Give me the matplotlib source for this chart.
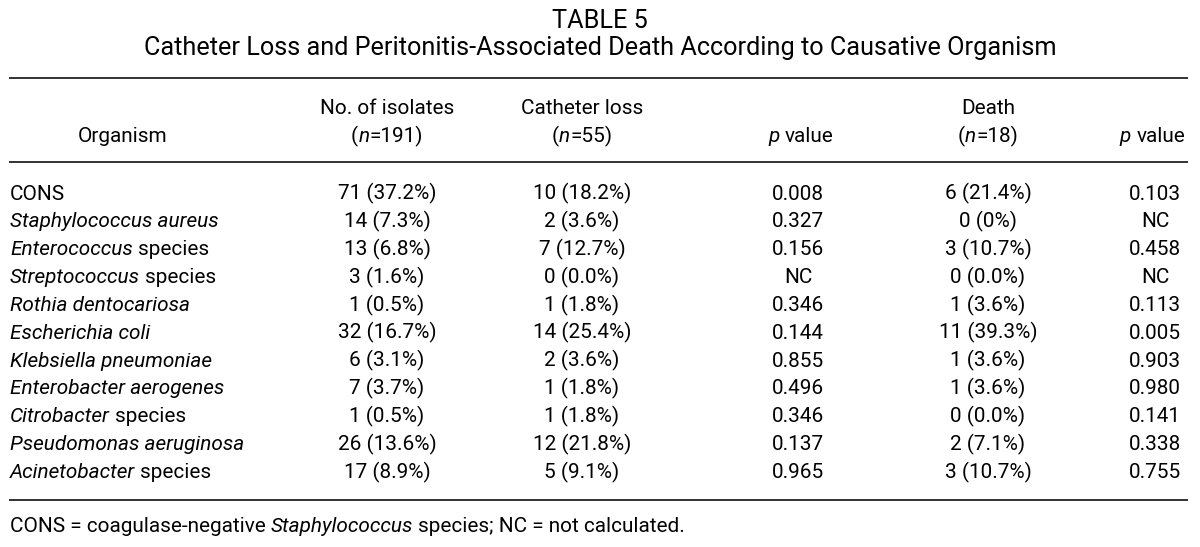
import numpy as np
import matplotlib
matplotlib.use("Agg")
import matplotlib.pyplot as plt
from matplotlib import font_manager as fm

################### Table content ###########################
title = "TABLE 5"
subtitle = "Catheter Loss and Peritonitis-Associated Death According to Causative Organism"

organisms = ["CONS", "Staphylococcus aureus", "Enterococcus species",
             "Streptococcus species", "Rothia dentocariosa",
             "Escherichia coli", "Klebsiella pneumoniae",
             "Enterobacter aerogenes", "Citrobacter species",
             "Pseudomonas aeruginosa", "Acinetobacter species"]
isolates = ["71 (37.2%)", "14 (7.3%)", "13 (6.8%)", "3 (1.6%)", "1 (0.5%)",
            "32 (16.7%)", "6 (3.1%)", "7 (3.7%)", "1 (0.5%)", "26 (13.6%)",
            "17 (8.9%)"]
catheter_loss = ["10 (18.2%)", "2 (3.6%)", "7 (12.7%)", "0 (0.0%)",
                 "1 (1.8%)", "14 (25.4%)", "2 (3.6%)", "1 (1.8%)",
                 "1 (1.8%)", "12 (21.8%)", "5 (9.1%)"]
p_catheter = ["0.008", "0.327", "0.156", "NC", "0.346", "0.144", "0.855",
              "0.496", "0.346", "0.137", "0.965"]
death = ["6 (21.4%)", "0 (0%)", "3 (10.7%)", "0 (0.0%)", "1 (3.6%)",
         "11 (39.3%)", "1 (3.6%)", "1 (3.6%)", "0 (0.0%)", "2 (7.1%)",
         "3 (10.7%)"]
p_death = ["0.103", "NC", "0.458", "NC", "0.113", "0.005", "0.903", "0.980",
           "0.141", "0.338", "0.755"]
footnote = [("CONS = coagulase-negative", False), ("Staphylococcus", True),
            ("species; NC = not calculated.", False)]
###############################################################


def pickFont():
    # upright + italic files of a plain sans family
    groups = {}
    for f in fm.fontManager.ttflist:
        if str(f.weight) not in ("400", "normal", "regular", "book"):
            continue
        groups.setdefault((f.name, str(f.stretch)), {})[f.style] = f.fname
    for name in ["Roboto", "Liberation Sans", "Noto Sans"]:
        styles = groups.get((name, "normal"), {})
        ital = styles.get("italic", styles.get("oblique"))
        if "normal" in styles and ital is not None:
            return styles["normal"], ital
    return None


font_files = pickFont()


def fp(italic=False, size=14):
    if font_files is None:
        return fm.FontProperties(size=size,
                                 style="italic" if italic else "normal")
    return fm.FontProperties(fname=font_files[1 if italic else 0], size=size)


fig = plt.figure(figsize=(12, 5.47), dpi=100)
ax = fig.add_axes([0, 0, 1, 1])
ax.set_xlim(0, 1200)
ax.set_ylim(547, 0)
ax.axis("off")
renderer = fig.canvas.get_renderer()


def textWidth(s, italic, size):
    t = ax.text(0, 0, s, fontproperties=fp(italic, size))
    w = t.get_window_extent(renderer).width
    t.remove()
    return w


def richWidth(parts, size):
    sp = textWidth("a a", False, size) - textWidth("aa", False, size)
    w = sum(textWidth(p[0], p[1], size) for p in parts)
    w += sum(sp for p in parts[1:] if (p[2] if len(p) > 2 else True))
    return w


# fit sizes to the widths of the footnote and subtitle in the reference
FS = 14 * 680 / richWidth(footnote, 14)
FS_TITLE = 14 * 918 / textWidth(subtitle, False, 14)


def richText(x, y, parts, ha="left", size=None):
    # parts: (text, italic[, space_before]); default puts a space between
    size = FS if size is None else size
    sp = textWidth("a a", False, size) - textWidth("aa", False, size)
    total = richWidth(parts, size)
    if ha == "center":
        x0 = x - total / 2
    elif ha == "right":
        x0 = x - total
    else:
        x0 = x
    for k, p in enumerate(parts):
        if k > 0 and (p[2] if len(p) > 2 else True):
            x0 += sp
        ax.text(x0, y, p[0], fontproperties=fp(p[1], size), va="baseline",
                ha="left")
        x0 += textWidth(p[0], p[1], size)


def plainText(x, y, s, ha="center", size=None):
    size = FS if size is None else size
    ax.text(x, y, s, fontproperties=fp(False, size), ha=ha, va="baseline")


def organismParts(name):
    if name == "CONS":
        return [(name, False)]
    if name.endswith(" species"):
        return [(name[:-8], True), ("species", False)]
    return [(name, True)]


# title
plainText(600, 28.5, title, size=FS_TITLE)
plainText(600, 54.5, subtitle, size=FS_TITLE)

# rules
x_left, x_right = 9, 1188
for yl in [78, 162, 500]:
    ax.plot([x_left, x_right], [yl, yl], color="#222222", lw=1.3,
            solid_capstyle="butt")

# header
col_x = [387, 582, 798, 988, 1155]
h1, h2 = 114.5, 142.5
plainText(123, h2, "Organism")
plainText(col_x[0], h1, "No. of isolates")
richText(col_x[0], h2, [("(", False), ("n", True, False),
                        ("=191)", False, False)], ha="center")
plainText(col_x[1], h1, "Catheter loss")
richText(col_x[1], h2, [("(", False), ("n", True, False),
                        ("=55)", False, False)], ha="center")
richText(801, h2, [("p", True), ("value", False)], ha="center")
plainText(col_x[3], h1, "Death")
richText(col_x[3], h2, [("(", False), ("n", True, False),
                        ("=18)", False, False)], ha="center")
richText(1185, h2, [("p", True), ("value", False)], ha="right")

# body rows
row_y = 199.5 + 27.85 * np.arange(len(organisms))
columns = [isolates, catheter_loss, p_catheter, death, p_death]
for i, y in enumerate(row_y):
    richText(10, y, organismParts(organisms[i]))
    for cx, col in zip(col_x, columns):
        plainText(cx, y, col[i])

# footnote
richText(10, 532.5, footnote)

fig.savefig("out.png", dpi=100, facecolor="white")
